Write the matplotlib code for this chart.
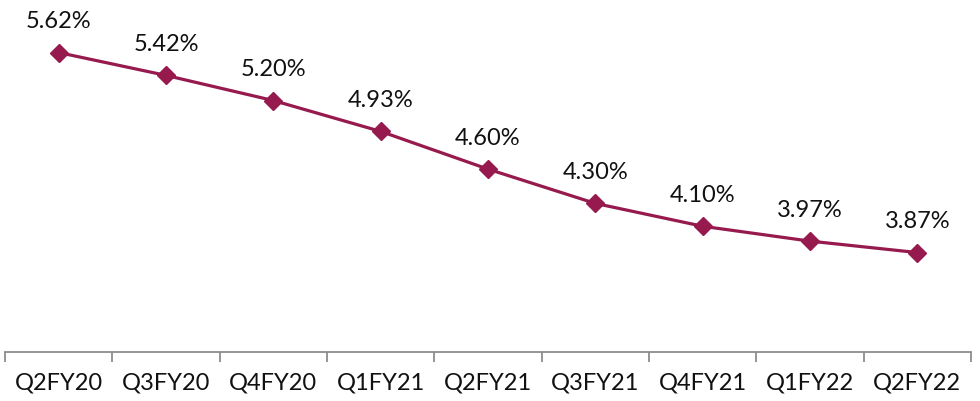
import numpy as np
import matplotlib.pyplot as plt

quarters = ["Q2FY20", "Q3FY20", "Q4FY20", "Q1FY21", "Q2FY21",
            "Q3FY21", "Q4FY21", "Q1FY22", "Q2FY22"]
rates = [5.62, 5.42, 5.20, 4.93, 4.60, 4.30, 4.10, 3.97, 3.87]

plt.rcParams['font.family'] = ['Lato', 'DejaVu Sans']

fig = plt.figure(figsize=(9.8, 4.02), dpi=100)
ax = fig.add_axes([5 / 980, 49 / 402, 966 / 980, 353 / 402])

x = np.arange(len(quarters))
col = '#961a4e'
ax.plot(x, rates, color=col, lw=2.3, marker='D', ms=9, mec=col, mfc=col)

for xi, v in zip(x, rates):
    ax.annotate('%.2f%%' % v, (xi, v), xytext=(0, 23), textcoords='offset points',
                ha='center', va='center', fontsize=17, color='#111111')

ax.set_xlim(-0.5, len(quarters) - 0.5)
ax.set_ylim(3.0, 3.0 + 353 / 114.3)

for s in ['top', 'right', 'left']:
    ax.spines[s].set_visible(False)
ax.spines['bottom'].set_color('#8c8c8c')
ax.spines['bottom'].set_linewidth(1.3)

ax.set_yticks([])
ax.set_xticks(x)
ax.set_xticklabels(quarters, fontsize=17, color='#111111')
ax.tick_params(axis='x', which='major', length=0, pad=14)
ax.set_xticks(np.arange(-0.5, len(quarters), 1.0), minor=True)
ax.tick_params(axis='x', which='minor', length=7, width=1.3, color='#8c8c8c')

fig.savefig('out.png', dpi=100)
